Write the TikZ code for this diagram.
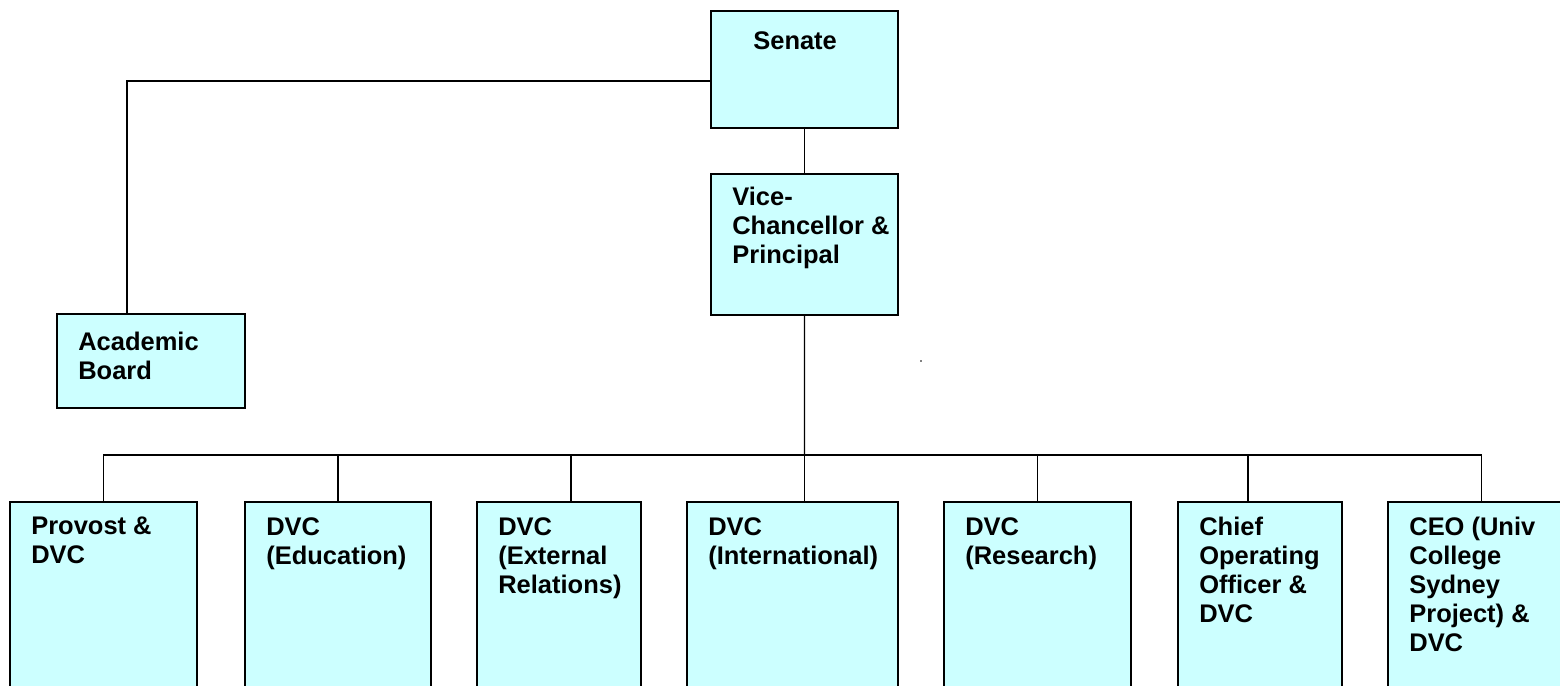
\documentclass[tikz,border=0pt]{standalone}
\usepackage{fontspec}
\setmainfont{Liberation Sans}
\usetikzlibrary{positioning}
\definecolor{boxcyan}{RGB}{204,255,255}

\begin{document}
\begin{tikzpicture}[x=0.02cm, y=-0.02cm,
    box/.style={draw, fill=boxcyan, line width=0.75pt, inner sep=0pt, outer sep=0pt, anchor=north west},
    lbl/.style={inner sep=0pt, align=left, font=\bfseries\fontsize{14.5}{16.5}\selectfont},
    link/.style={line width=0.6pt}]
\useasboundingbox (0,0) rectangle (1560,686);
\clip (0,0) rectangle (1560,686);

\node[box, minimum width=3.74cm, minimum height=2.34cm] (sen) at (711,11) {};
\node[box, minimum width=3.74cm, minimum height=2.82cm] (vc) at (711,174) {};
\node[box, minimum width=3.76cm, minimum height=1.88cm] (acad) at (57,314) {};

\node[box, minimum width=3.74cm, minimum height=4cm] (prov) at (10,502) {};
\node[box, minimum width=3.72cm, minimum height=4cm] (edu) at (245,502) {};
\node[box, minimum width=3.28cm, minimum height=4cm] (ext) at (477,502) {};
\node[box, minimum width=4.22cm, minimum height=4cm] (int) at (687,502) {};
\node[box, minimum width=3.74cm, minimum height=4cm] (res) at (944,502) {};
\node[box, minimum width=3.28cm, minimum height=4cm] (coo) at (1178,502) {};
\node[box, minimum width=3.74cm, minimum height=4cm] (ceo) at (1388,502) {};

\node[lbl, below right=0.41cm and 0.84cm of sen.north west] (senT) {Senate};
\node[lbl, below right=0.26cm and 0.42cm of vc.north west] (vcT) {Vice-\\Chancellor \&\\Principal};
\node[lbl, below right=0.36cm and 0.42cm of acad.north west] (acadT) {Academic\\Board};

\node[lbl, below right=0.3cm and 0.42cm of prov.north west] (provT) {Provost \&\\DVC};
\node[lbl, below right=0.3cm and 0.42cm of edu.north west] (eduT) {DVC\\(Education)};
\node[lbl, below right=0.3cm and 0.42cm of ext.north west] (extT) {DVC\\(External\\Relations)};
\node[lbl, below right=0.3cm and 0.42cm of int.north west] (intT) {DVC\\(International)};
\node[lbl, below right=0.3cm and 0.42cm of res.north west] (resT) {DVC\\(Research)};
\node[lbl, below right=0.3cm and 0.42cm of coo.north west] (cooT) {Chief\\Operating\\Officer \&\\DVC};
\node[lbl, below right=0.3cm and 0.42cm of ceo.north west] (ceoT) {CEO (Univ\\College\\Sydney\\Project) \&\\DVC};

\draw[link] (sen.south) -- (vc.north);
\draw[link] ([yshift=-0.23cm]sen.west) -| ([xshift=-0.48cm]acad.north);

\coordinate (bus) at (804.5,455);
\draw[link] (vc.south) -- (bus);
\draw[link] (bus) -| (prov.north);
\draw[link] (bus) -| (edu.north);
\draw[link] (bus) -| ([xshift=0.24cm]ext.north);
\draw[link] (bus) -| ([xshift=0.24cm]int.north);
\draw[link] (bus) -| (res.north);
\draw[link] (bus) -| ([xshift=-0.24cm]coo.north);
\draw[link] (bus) -| (ceo.north);

\fill (921,361) circle (0.9);
\end{tikzpicture}
\end{document}
